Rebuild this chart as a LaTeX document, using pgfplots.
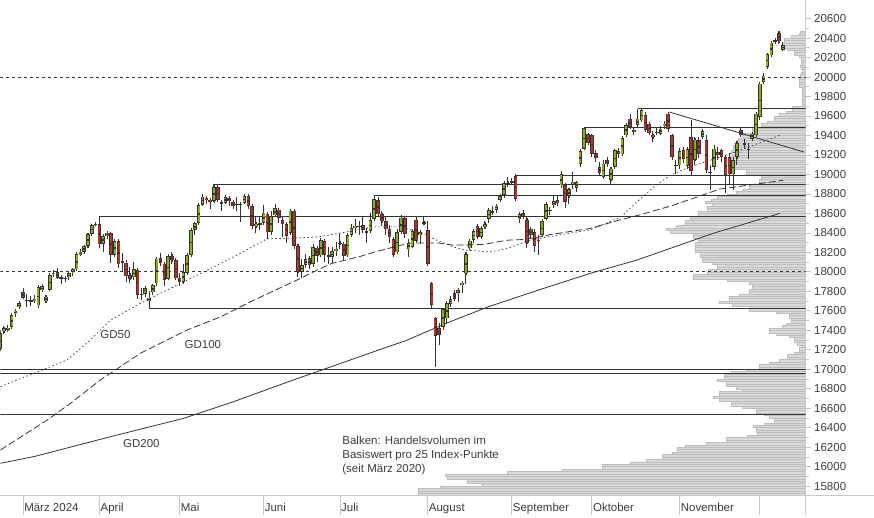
\documentclass[border=0pt]{standalone}
\usepackage{fontspec}
\setmainfont{Liberation Sans}
\usepackage{pgfplots}
\usepackage{pgfplotstable}
\pgfplotsset{compat=1.18}

\definecolor{upc}{HTML}{8DAF1C}
\definecolor{dnc}{HTML}{B8322A}
\definecolor{ink}{HTML}{333333}
\definecolor{txt}{HTML}{3C3C3C}
\definecolor{volf}{HTML}{DADADA}
\definecolor{vold}{HTML}{BDBDBD}
\definecolor{axc}{HTML}{C8C8C8}

% daily candles, i = trading day (0 = 1 March 2024)
\pgfplotstableread{
i o h l c
-6 17210 17400 17190 17370
-5 17390 17440 17360 17419
-4 17400 17450 17380 17423
-3 17436 17570 17420 17556
-2 17573 17615 17540 17601
-1 17641 17700 17620 17678
0 17795 17830 17720 17735
1 17710 17770 17640 17716
2 17712 17750 17650 17698
3 17700 17760 17680 17717
4 17656 17850 17630 17842
5 17812 17880 17795 17850
6 17700 17760 17680 17746
7 17819 17970 17800 17965
8 17976 18020 17945 17992
9 18000 18040 17930 17942
10 17945 17970 17880 17936
11 17940 17960 17900 17933
12 17943 18000 17920 17990
13 17994 18040 17960 18025
14 18025 18200 18010 18182
15 18178 18230 18160 18206
16 18205 18280 18190 18261
17 18267 18400 18250 18384
18 18394 18490 18370 18477
19 18485 18510 18470 18492
20 18489 18571 18240 18283
21 18291 18390 18200 18367
22 18373 18420 18340 18400
23 18394 18410 18090 18175
24 18171 18330 18150 18318
25 18315 18340 18040 18077
26 18110 18190 17996 18097
27 18096 18120 17900 17954
28 17966 18050 17881 17930
29 17943 18100 17920 18027
30 18017 18030 17720 17767
31 17775 17832 17710 17770
32 17778 17850 17740 17837
33 17700 17800 17625 17737
34 17790 17880 17760 17861
35 17881 18150 17850 18137
36 18140 18190 18060 18089
37 18086 18100 17850 17917
38 17932 18170 17920 18161
39 18161 18200 18080 18118
40 18120 18140 17930 17932
41 17932 17990 17850 17896
42 17897 18080 17890 18001
43 17990 18180 17970 18175
44 18171 18440 18160 18430
45 18428 18510 18380 18498
46 18503 18700 18480 18686
47 18691 18800 18680 18773
48 18763 18780 18700 18742
49 18735 18760 18650 18716
50 18725 18900 18720 18869
51 18872 18880 18720 18738
52 18718 18740 18620 18704
53 18712 18790 18700 18768
54 18763 18770 18680 18726
55 18718 18740 18650 18680
56 18700 18770 18620 18691
57 18700 18720 18510 18693
58 18712 18800 18700 18774
59 18776 18790 18650 18677
60 18674 18680 18440 18473
61 18469 18560 18400 18496
62 18490 18560 18430 18498
63 18503 18690 18490 18608
64 18599 18610 18340 18405
65 18410 18620 18380 18576
66 18580 18700 18560 18652
67 18640 18660 18500 18557
68 18530 18560 18360 18494
69 18494 18510 18300 18369
70 18400 18640 18380 18630
71 18630 18640 18230 18265
72 18265 18290 17950 18002
73 18000 18130 17940 18068
74 18070 18180 18040 18131
75 18140 18150 18030 18067
76 18080 18290 18050 18254
77 18250 18260 18100 18163
78 18170 18350 18160 18325
79 18320 18330 18100 18177
80 18170 18260 18080 18155
81 18150 18260 18090 18210
82 18220 18310 18160 18235
83 18300 18400 18230 18290
84 18290 18300 18120 18164
85 18170 18400 18160 18374
86 18380 18490 18360 18450
87 18450 18540 18400 18475
88 18460 18520 18380 18472
89 18480 18560 18400 18430
90 18420 18450 18300 18407
91 18420 18600 18400 18534
92 18540 18784 18530 18748
93 18740 18770 18560 18590
94 18590 18620 18470 18518
95 18520 18560 18380 18437
96 18440 18480 18300 18354
97 18340 18360 18150 18171
98 18200 18440 18180 18407
99 18410 18580 18390 18557
100 18550 18560 18350 18387
101 18230 18340 18150 18298
102 18260 18430 18240 18417
103 18537 18560 18300 18320
104 18376 18430 18290 18411
105 18500 18560 18480 18508
106 18430 18520 18060 18083
107 17881 17900 17630 17661
108 17522 17530 17024 17339
109 17419 17480 17250 17354
110 17436 17630 17400 17615
111 17522 17700 17480 17680
112 17669 17750 17640 17722
113 17785 17810 17700 17726
114 17780 17820 17690 17812
115 17865 17900 17780 17885
116 17984 18200 17880 18183
117 18240 18340 18220 18322
118 18326 18430 18300 18421
119 18469 18480 18340 18357
120 18359 18460 18340 18448
121 18462 18520 18440 18493
122 18548 18640 18500 18633
123 18620 18680 18580 18617
124 18640 18700 18600 18681
125 18742 18800 18720 18782
126 18787 18930 18760 18912
127 18910 18970 18870 18906
128 18920 18960 18900 18930
129 18982 18990 18730 18747
130 18538 18600 18500 18592
131 18600 18640 18540 18576
132 18531 18560 18250 18301
133 18376 18460 18340 18443
134 18410 18440 18200 18266
135 18326 18380 18170 18330
136 18376 18540 18360 18518
137 18548 18710 18530 18699
138 18640 18670 18580 18633
139 18691 18780 18660 18726
140 18735 18780 18680 18711
141 18887 19040 18860 19002
142 18889 18900 18660 18720
143 18776 18860 18700 18847
144 18900 19026 18855 18920
145 18860 18930 18820 18918
146 19105 19260 19080 19238
147 19266 19492 19250 19473
148 19412 19430 19300 19325
149 19402 19420 19180 19213
150 19221 19250 19130 19173
151 19077 19130 18990 19015
152 18974 19150 18950 19111
153 19146 19180 19080 19104
154 18948 19080 18900 19060
155 19077 19260 19060 19248
156 19241 19270 19170 19207
157 19207 19390 19200 19374
158 19402 19520 19390 19505
159 19573 19620 19480 19487
160 19460 19490 19410 19436
161 19505 19676 19480 19573
162 19556 19670 19540 19657
163 19607 19640 19440 19461
164 19522 19540 19400 19421
165 19402 19450 19330 19385
166 19430 19490 19400 19436
167 19419 19500 19400 19471
168 19500 19550 19470 19520
169 19625 19641 19440 19471
170 19402 19420 19150 19180
171 19100 19150 19000 19094
172 19094 19270 19060 19241
173 19250 19280 19120 19160
174 19087 19280 19060 19258
175 19380 19560 18980 19039
176 19153 19380 19100 19358
177 19350 19380 19170 19215
178 19385 19470 19370 19443
179 19351 19400 19010 19043
180 19030 19100 18838 19026
181 19077 19300 19050 19266
182 19230 19280 19150 19200
183 19248 19260 19130 19180
184 19180 19200 18807 18992
185 19180 19220 18900 19000
186 19000 19180 18840 19146
187 19180 19340 19100 19323
188 19453 19480 19380 19402
189 19320 19360 19260 19310
190 19265 19320 19160 19262
191 19368 19440 19340 19419
192 19402 19640 19390 19625
193 19590 19950 19560 19932
194 19949 20040 19930 20014
195 20103 20250 20090 20233
196 20223 20370 20210 20353
197 20370 20400 20340 20376
198 20455 20470 20340 20366
199 20281 20360 20270 20332
}\candles

% volume profile: bar length (pt) per 25 index points
\pgfplotstableread{
v L
20462.5 5
20437.5 6
20412.5 14
20387.5 21
20362.5 21
20337.5 23
20312.5 23
20287.5 18
20262.5 11
20237.5 11
20212.5 6
20187.5 4
20162.5 3
20137.5 4
20112.5 5
20087.5 4
20062.5 3
20037.5 4
20012.5 5
19987.5 6
19962.5 6
19937.5 6
19912.5 6
19887.5 3
19862.5 3
19837.5 3
19812.5 3
19787.5 3
19762.5 3
19737.5 3
19712.5 3
19687.5 13
19662.5 13
19637.5 19
19612.5 26
19587.5 31
19562.5 31
19537.5 38
19512.5 44
19487.5 44
19462.5 53
19437.5 53
19412.5 63
19387.5 63
19362.5 67
19337.5 69
19312.5 69
19287.5 72
19262.5 72
19237.5 74
19212.5 74
19187.5 74
19162.5 74
19137.5 73
19112.5 73
19087.5 71
19062.5 71
19037.5 59
19012.5 59
18987.5 44
18962.5 44
18937.5 46
18912.5 46
18887.5 56
18862.5 56
18837.5 62
18812.5 69
18787.5 78
18762.5 88
18737.5 95
18712.5 101
18687.5 94
18662.5 99
18637.5 99
18612.5 108
18587.5 108
18562.5 116
18537.5 116
18512.5 121
18487.5 121
18462.5 130
18437.5 140
18412.5 136
18387.5 113
18362.5 113
18337.5 108
18312.5 108
18287.5 111
18262.5 111
18237.5 111
18212.5 111
18187.5 106
18162.5 106
18137.5 104
18112.5 104
18087.5 94
18062.5 88
18037.5 88
18012.5 98
17987.5 99
17962.5 113
17937.5 113
17912.5 78
17887.5 56
17862.5 53
17837.5 53
17812.5 56
17787.5 56
17762.5 66
17737.5 76
17712.5 76
17687.5 86
17662.5 73
17637.5 56
17612.5 56
17587.5 29
17562.5 16
17537.5 16
17512.5 14
17487.5 14
17462.5 19
17437.5 23
17412.5 36
17387.5 36
17362.5 29
17337.5 16
17312.5 11
17287.5 11
17262.5 8
17237.5 4
17212.5 6
17187.5 6
17162.5 11
17137.5 18
17112.5 18
17087.5 26
17062.5 36
17037.5 46
17012.5 46
16987.5 59
16962.5 74
16937.5 81
16912.5 81
16887.5 89
16862.5 79
16837.5 79
16812.5 69
16787.5 63
16762.5 86
16737.5 86
16712.5 93
16687.5 86
16662.5 74
16637.5 74
16612.5 63
16587.5 49
16562.5 49
16537.5 41
16512.5 36
16487.5 31
16462.5 31
16437.5 41
16412.5 52
16387.5 49
16362.5 49
16337.5 48
16312.5 58
16287.5 79
16262.5 79
16237.5 100
16212.5 121
16187.5 129
16162.5 129
16137.5 134
16112.5 144
16087.5 144
16062.5 160
16037.5 176
16012.5 204
15987.5 204
15962.5 244
15937.5 299
15912.5 361
15887.5 359
15862.5 339
15837.5 339
15812.5 324
15787.5 366
15762.5 388
15737.5 388
15712.5 388
}\volprofile

\begin{document}
\begin{tikzpicture}
\path (0,-20pt) rectangle (874pt,495pt);

% volume profile, growing leftwards from the price axis
\begin{axis}[
    at={(0,0)}, anchor=south west,
    scale only axis, width=806pt, height=495pt,
    xmin=0, xmax=806, x dir=reverse,
    ymin=15710, ymax=20787,
    hide axis,
    xbar, bar width=25, bar shift=0pt,
]
\addplot[fill=volf, draw=vold, line width=0.5pt] table[x=L, y=v] {\volprofile};
\end{axis}

\begin{axis}[
    at={(0,0)}, anchor=south west,
    scale only axis, width=806pt, height=495pt,
    xmin=-5.94, xmax=205, ymin=15710, ymax=20787,
    clip mode=individual,
    axis x line*=bottom, axis y line*=right,
    axis line style={axc, line width=0.8pt},
    ytick={15800,16000,...,20600}, minor y tick num=1,
    scaled y ticks=false,
    tick align=outside, major tick length=5pt, minor tick length=3pt,
    ytick style={axc, line width=0.8pt},
    yticklabel style={font=\fontsize{11.5}{13}\selectfont, text=txt},
    /pgf/number format/1000 sep={},
    /pgf/number format/assume math mode=true,
    xtick={0,20,41,63,83,106,128,149,172},
    xticklabels={März 2024,April,Mai,Juni,Juli,August,September,Oktober,November},
    xtick style={draw=none},
    xticklabel style={anchor=north west, font=\fontsize{11.5}{13}\selectfont, text=txt, inner xsep=1pt},
]
% month separators in the label strip, and the frame lines running past the axis
\pgfplotsinvokeforeach{0,20,41,63,83,106,128,149,172,193}{
  \draw[axc, line width=0.8pt] (axis cs:#1,15710) -- ([yshift=-20pt]axis cs:#1,15710);
}
\draw[axc, line width=0.8pt] (axis cs:205,15710) -- ([yshift=-20pt]axis cs:205,15710);
\draw[axc, line width=0.8pt] (axis cs:205,15710) -- ([xshift=68pt]axis cs:205,15710);

% moving averages
\addplot[ink, line width=0.7pt, dash pattern=on 1.5pt off 2.5pt] coordinates {
(-5.94,16821) (2.77,16958) (11.5,17095) (17.6,17300) (22.9,17505) (30.7,17676)
(39.4,17846) (48.2,18017) (56.9,18190) (63.9,18340) (70,18345) (77.3,18359)
(83.9,18404) (91.7,18462) (98.8,18462) (104.9,18394) (108.4,18325) (112.7,18256)
(116.3,18222) (122.3,18205) (126.8,18240) (132.8,18325) (139.8,18376) (148.5,18430)
(156.4,18560) (160.8,18718) (165.2,18872) (169.5,18992) (174.7,19077) (187.8,19248)
(198.2,19402)};
\addplot[ink, line width=0.8pt, dash pattern=on 7pt off 3pt] coordinates {
(-5.94,16171) (6.3,16479) (12.4,16650) (20.2,16889) (30.7,17163) (42.9,17402)
(51.7,17538) (60.4,17709) (72.6,17932) (75.2,17984) (80.9,18087) (87.9,18154)
(92.2,18205) (96.6,18250) (101.4,18297) (108.8,18297) (112.7,18274) (120.5,18281)
(126.7,18325) (131.1,18332) (136.3,18366) (138,18383) (148.5,18445) (156,18530)
(162,18590) (170,18680) (182.5,18850) (199.1,18940)};
\addplot[ink, line width=0.8pt] coordinates {
(-5.94,16035) (2.77,16103) (22.9,16308) (42,16496) (55.1,16667) (70,16879)
(96.2,17240) (100,17290) (111.4,17481) (121.8,17641) (134.9,17812) (148.5,17984)
(160.7,18120) (180.7,18395) (198.2,18600)};

% support and resistance lines
\addplot[ink, line width=1pt] coordinates {(161,19676) (205,19676)};
\addplot[ink, line width=1pt] coordinates {(147,19487) (205,19487)};
\addplot[ink, line width=1pt] coordinates {(129,18990) (205,18990)};
\addplot[ink, line width=1pt] coordinates {(50,18900) (205,18900)};
\addplot[ink, line width=1pt] coordinates {(92,18784) (205,18784)};
\addplot[ink, line width=1pt] coordinates {(20,18571) (205,18571)};
\addplot[ink, line width=1pt] coordinates {(33,17625) (205,17625)};
\addplot[ink, line width=1pt] coordinates {(-5.94,17002) (205,17002)};
\addplot[ink, line width=1pt] coordinates {(-5.94,16958) (205,16958)};
\addplot[ink, line width=1pt] coordinates {(-5.94,16537) (205,16537)};
\addplot[ink, line width=0.8pt] coordinates {(169.3,19641) (204.5,19231)};
\addplot[ink, line width=0.9pt, dash pattern=on 3pt off 3pt] coordinates {(-5.94,20000) (205,20000)};
\addplot[ink, line width=0.9pt, dash pattern=on 3pt off 3pt] coordinates {(-5.94,18000) (205,18000)};

% candles: wicks
\addplot[draw=none, mark=none, forget plot,
  error bars/.cd, y dir=plus, y explicit, error mark=none,
  error bar style={draw=ink, line width=1pt}]
  table[x=i, y=l, y error expr=\thisrow{h}-\thisrow{l}] {\candles};
% candles: body outlines
\addplot[draw=none, mark=none, forget plot,
  error bars/.cd, y dir=both, y explicit,
  error mark options={ink, line width=0.8pt, mark size=1.8pt},
  error bar style={draw=ink, line width=3.6pt}]
  table[x=i, y expr=(\thisrow{o}+\thisrow{c})/2,
        y error expr=abs(\thisrow{c}-\thisrow{o})/2] {\candles};
% candles: rising bodies
\addplot[draw=none, mark=none, forget plot,
  error bars/.cd, y dir=both, y explicit, error mark=none,
  error bar style={draw=upc, line width=2pt, shorten <=0.8pt, shorten >=0.8pt}]
  table[x=i, y expr={(\thisrow{c}-\thisrow{o}>15) ? (\thisrow{o}+\thisrow{c})/2 : nan},
        y error expr=abs(\thisrow{c}-\thisrow{o})/2] {\candles};
% candles: falling bodies
\addplot[draw=none, mark=none, forget plot,
  error bars/.cd, y dir=both, y explicit, error mark=none,
  error bar style={draw=dnc, line width=2pt, shorten <=0.8pt, shorten >=0.8pt}]
  table[x=i, y expr={(\thisrow{o}-\thisrow{c}>15) ? (\thisrow{o}+\thisrow{c})/2 : nan},
        y error expr=abs(\thisrow{c}-\thisrow{o})/2] {\candles};

% labels
\node[text=txt, font=\fontsize{11.5}{13}\selectfont] at (axis cs:24.2,17361) {GD50};
\node[text=txt, font=\fontsize{11.5}{13}\selectfont] at (axis cs:47.1,17259) {GD100};
\node[text=txt, font=\fontsize{11.5}{13}\selectfont] at (axis cs:31.0,16238) {GD200};
\node[anchor=north west, align=left, inner sep=0pt, text=txt,
      font=\fontsize{11.5}{14}\selectfont] at (axis cs:83.6,16318)
  {Balken: Handelsvolumen im\\Basiswert pro 25 Index-Punkte\\(seit März 2020)};
\end{axis}
\end{tikzpicture}
\end{document}
